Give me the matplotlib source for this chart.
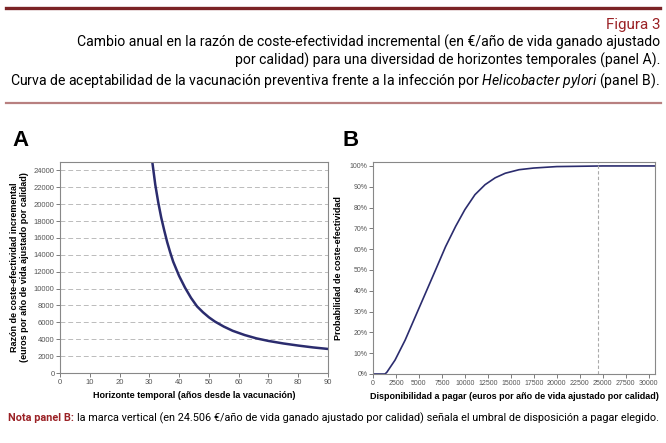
import matplotlib.pyplot as plt
from matplotlib.ticker import FuncFormatter

# Panel A: ICER vs time horizon
horizonte = [31.0, 32, 33, 34, 35, 36, 37, 38, 40, 42, 44, 46, 48, 50, 52, 55, 58,
             62, 66, 70, 75, 80, 85, 90]
icer = [25000, 22300, 20200, 18400, 16900, 15500, 14300, 13200, 11500, 10100, 8900,
        7900, 7200, 6600, 6100, 5500, 5000, 4500, 4100, 3800, 3500, 3250, 3030, 2850]

# Panel B: acceptability curve
disposicion = [0, 1300, 1500, 2400, 3500, 4600, 5700, 6800, 7900, 9000, 10000, 11100,
               12200, 13300, 14400, 15900, 17500, 20000, 25000, 30700]
probabilidad = [0, 0, 0.008, 0.067, 0.163, 0.275, 0.387, 0.499, 0.612, 0.71, 0.79,
                0.862, 0.91, 0.943, 0.965, 0.982, 0.99, 0.997, 1.0, 1.0]
umbral = 24506

navy = '#2b2c6e'
red = '#9b2226'
txt = ['Roboto', 'DejaVu Sans']
axfont = ['Liberation Sans', 'DejaVu Sans']

plt.rcParams['mathtext.fontset'] = 'custom'
plt.rcParams['mathtext.it'] = 'Roboto:italic'
plt.rcParams['mathtext.rm'] = 'Roboto'

fig = plt.figure(figsize=(6.66, 4.43), dpi=100)

# header rules and text
fig.add_artist(plt.Line2D([6/666, 660/666], [1 - 7.5/443] * 2, color='#7b2326', lw=2.4))
fig.add_artist(plt.Line2D([6/666, 661/666], [1 - 102.7/443] * 2, color='#b88080', lw=1.6))
fig.text(660/666, 1 - 25/443, 'Figura 3', ha='right', va='center', color=red,
         fontsize=11, family=txt)
fig.text(660/666, 1 - 62/443,
         'Cambio anual en la razón de coste-efectividad incremental (en €/año de vida ganado ajustado\n'
         'por calidad) para una diversidad de horizontes temporales (panel A).\n'
         'Curva de aceptabilidad de la vacunación preventiva frente a la infección por '
         '$\\it{Helicobacter\\ pylori}$ (panel B).',
         ha='right', va='center', ma='right', fontsize=10.1, family=txt, linespacing=1.22)

fig.text(12/666, 1 - 140/443, 'A', fontsize=16, fontweight='bold', va='center', family=axfont)
fig.text(342/666, 1 - 140/443, 'B', fontsize=16, fontweight='bold', va='center', family=axfont)

nota = fig.text(8/666, 1 - 418/443, 'Nota panel B:', color=red, fontweight='bold',
                fontsize=7.85, family=txt, va='center')
fig.canvas.draw()
x1 = nota.get_window_extent().x1 / fig.bbox.width
fig.text(x1 + 3/666, 1 - 418/443,
         'la marca vertical (en 24.506 €/año de vida ganado ajustado por calidad) '
         'señala el umbral de disposición a pagar elegido.',
         fontsize=7.85, family=txt, va='center')


def style(ax):
    for s in ax.spines.values():
        s.set_color('#888888')
        s.set_linewidth(0.8)
    ax.tick_params(labelsize=5.5, labelcolor='#555555', color='#666666',
                   length=3, width=0.6, pad=1)
    for lab in ax.get_xticklabels() + ax.get_yticklabels():
        lab.set_family(axfont)


# Panel A
axA = fig.add_axes([60/666, 1 - 373/443, 268/666, 211/443])
axA.plot(horizonte, icer, color=navy, lw=1.8)
axA.set_xlim(0, 90)
axA.set_ylim(0, 25000)
axA.set_xticks(range(0, 91, 10))
axA.set_yticks(range(0, 24001, 2000))
axA.yaxis.grid(True, ls=(0, (5, 3)), color='#bbbbbb', lw=0.7)
axA.set_xlabel('Horizonte temporal (años desde la vacunación)', fontsize=6.5,
               fontweight='bold', labelpad=4, family=axfont)
axA.set_ylabel('Razón de coste-efectividad incremental\n'
               '(euros por año de vida ajustado por calidad)',
               fontsize=6.5, fontweight='bold', labelpad=3, family=axfont)
style(axA)

# Panel B
axB = fig.add_axes([373/666, 1 - 374/443, 282/666, 212/443])
axB.plot(disposicion, probabilidad, color=navy, lw=1.2)
axB.axvline(umbral, color='#aaaaaa', ls=(0, (3, 2)), lw=0.8)
axB.set_xlim(0, 30700)
axB.set_ylim(0, 1.019)
axB.set_xticks(range(0, 30001, 2500))
axB.set_yticks([i / 10 for i in range(11)])
axB.yaxis.set_major_formatter(FuncFormatter(lambda v, p: f'{v * 100:.0f}%'))
axB.set_xlabel('Disponibilidad a pagar (euros por año de vida ajustado por calidad)',
               fontsize=6.5, fontweight='bold', labelpad=4, family=axfont)
axB.set_ylabel('Probabilidad de coste-efectividad', fontsize=6.5,
               fontweight='bold', labelpad=5, family=axfont)
style(axB)
axB.tick_params(labelsize=5)

fig.savefig('out.png', dpi=100)
